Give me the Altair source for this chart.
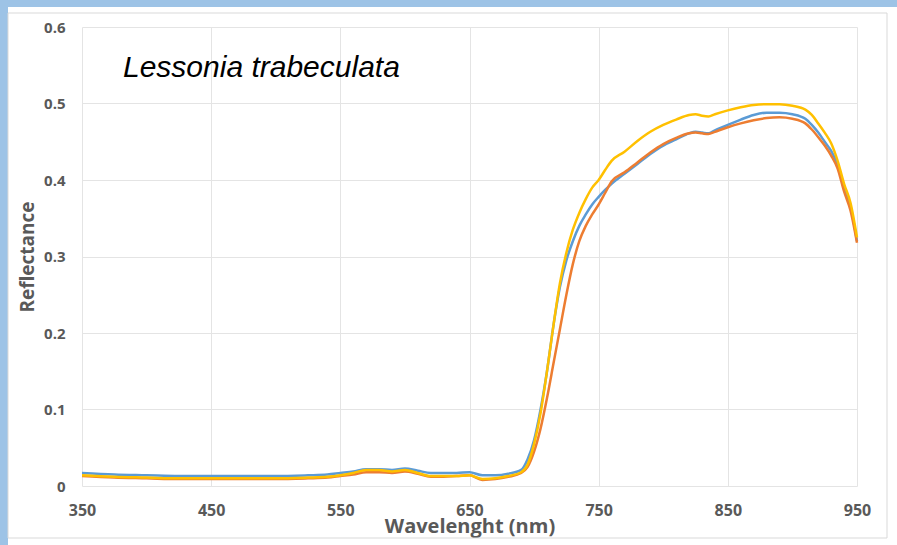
import altair as alt
import pandas as pd

# Spectral reflectance of three Lessonia trabeculata samples
wavelength = [350, 375, 400, 425, 450, 475, 500, 525, 540, 550, 560, 570, 580, 590,
              600, 610, 620, 630, 640, 650, 660, 670, 680, 690, 695, 700, 705, 710,
              715, 720, 725, 730, 735, 740, 745, 750, 755, 760, 770, 780, 790, 800,
              810, 820, 825, 830, 835, 840, 850, 860, 870, 880, 890, 900, 910, 915,
              920, 925, 930, 935, 940, 945, 950]

sample_1 = [0.017, 0.015, 0.014, 0.013, 0.013, 0.013, 0.013, 0.014, 0.015, 0.017, 0.019,
            0.022, 0.022, 0.021, 0.023, 0.020, 0.017, 0.017, 0.017, 0.018, 0.014, 0.014,
            0.016, 0.021, 0.035, 0.060, 0.100, 0.150, 0.210, 0.260, 0.295, 0.320, 0.340,
            0.355, 0.368, 0.378, 0.387, 0.395, 0.408, 0.421, 0.434, 0.445, 0.453, 0.461,
            0.463, 0.462, 0.461, 0.465, 0.472, 0.479, 0.485, 0.488, 0.488, 0.486, 0.480,
            0.472, 0.462, 0.450, 0.438, 0.420, 0.390, 0.365, 0.320]

sample_2 = [0.013, 0.011, 0.010, 0.009, 0.009, 0.009, 0.009, 0.010, 0.011, 0.013, 0.015,
            0.018, 0.018, 0.017, 0.019, 0.016, 0.012, 0.012, 0.013, 0.014, 0.008, 0.009,
            0.012, 0.017, 0.025, 0.045, 0.075, 0.115, 0.160, 0.205, 0.250, 0.290, 0.320,
            0.340, 0.355, 0.368, 0.383, 0.398, 0.410, 0.423, 0.436, 0.447, 0.455, 0.461,
            0.462, 0.461, 0.460, 0.463, 0.469, 0.474, 0.478, 0.481, 0.482, 0.480, 0.474,
            0.466, 0.456, 0.445, 0.432, 0.415, 0.385, 0.360, 0.318]

sample_3 = [0.014, 0.012, 0.011, 0.010, 0.010, 0.010, 0.010, 0.011, 0.012, 0.014, 0.017,
            0.021, 0.021, 0.019, 0.021, 0.017, 0.013, 0.013, 0.013, 0.014, 0.009, 0.010,
            0.013, 0.018, 0.028, 0.055, 0.095, 0.150, 0.210, 0.265, 0.305, 0.335, 0.357,
            0.375, 0.390, 0.400, 0.413, 0.425, 0.437, 0.451, 0.463, 0.472, 0.479, 0.485,
            0.486, 0.484, 0.483, 0.486, 0.491, 0.495, 0.498, 0.499, 0.499, 0.497, 0.492,
            0.485, 0.474, 0.462, 0.448, 0.425, 0.395, 0.370, 0.325]

series_names = ["Sample 1", "Sample 2", "Sample 3"]
series_colors = ["#5B9BD5", "#ED7D31", "#FFC000"]

x_ticks = [350, 450, 550, 650, 750, 850, 950]
y_ticks = [0, 0.1, 0.2, 0.3, 0.4, 0.5, 0.6]

rows = []
for name, values in zip(series_names, [sample_1, sample_2, sample_3]):
    for w, r in zip(wavelength, values):
        rows.append({"wavelength": w, "reflectance": r, "sample": name})
df = pd.DataFrame(rows)

W, H = 775, 459
PAD_L, PAD_T = 82, 27
TOTAL_W, TOTAL_H = 897, 545

label_font = "Open Sans"
gray = "#595959"

lines = alt.Chart(df).mark_line(strokeWidth=2.5, interpolate="monotone").encode(
    x=alt.X("wavelength:Q",
            scale=alt.Scale(domain=[350, 950], nice=False, zero=False),
            axis=alt.Axis(values=x_ticks, title="Wavelenght (nm)", format="d",
                          grid=True, gridColor="#E4E4E4", domain=False, ticks=False,
                          labelFlush=False, labelOverlap=False,
                          labelPadding=16, labelFontSize=16, labelFontWeight="bold",
                          labelColor=gray, labelFont=label_font,
                          titleFont=label_font, titleFontSize=20, titleFontWeight="bold",
                          titleColor=gray, titleY=46, titleBaseline="alphabetic")),
    y=alt.Y("reflectance:Q",
            scale=alt.Scale(domain=[0, 0.6], nice=False),
            axis=alt.Axis(values=y_ticks, title="Reflectance",
                          grid=True, gridColor="#E4E4E4", domain=False, ticks=False,
                          labelFlush=False, labelOverlap=False,
                          labelPadding=17, labelFontSize=15, labelFontWeight="bold",
                          labelColor=gray, labelFont=label_font,
                          labelExpr="datum.value == 0 ? '0' : format(datum.value, '.1f')",
                          titleFont=label_font, titleFontSize=19, titleFontWeight="bold",
                          titleColor=gray, titleX=-49, titleY=H / 2,
                          titleBaseline="alphabetic", titleAlign="center")),
    color=alt.Color("sample:N", scale=alt.Scale(domain=series_names, range=series_colors),
                    legend=None),
)

blank = alt.Data(values=[{}])

# slide frame: light-blue strips along the left and top edges
left_strip = alt.Chart(blank).mark_rect(color="#9DC3E6").encode(
    x=alt.value(-PAD_L), x2=alt.value(-PAD_L + 8),
    y=alt.value(-PAD_T), y2=alt.value(TOTAL_H - PAD_T))
top_strip = alt.Chart(blank).mark_rect(color="#9DC3E6").encode(
    x=alt.value(-PAD_L), x2=alt.value(TOTAL_W - PAD_L),
    y=alt.value(-PAD_T), y2=alt.value(-PAD_T + 7))

# chart-area border
border = alt.Chart(blank).mark_rect(fill=None, stroke="#D9D9D9", strokeWidth=1).encode(
    x=alt.value(8 - PAD_L), x2=alt.value(887 - PAD_L),
    y=alt.value(13 - PAD_T), y2=alt.value(538 - PAD_T))

title = alt.Chart(blank).mark_text(
    text="Lessonia trabeculata", font="Liberation Sans", fontSize=30,
    fontStyle="italic", color="black", align="left", baseline="alphabetic"
).encode(x=alt.value(123 - PAD_L), y=alt.value(77 - PAD_T))

chart = alt.layer(left_strip, top_strip, border, lines, title).properties(
    width=W, height=H,
    autosize=alt.AutoSizeParams(type="none"),
    padding={"left": PAD_L, "top": PAD_T,
             "right": TOTAL_W - PAD_L - W, "bottom": TOTAL_H - PAD_T - H},
    background="white",
).configure_view(stroke=None)

chart.save("out.html", embed_options={"renderer": "svg", "actions": False})
